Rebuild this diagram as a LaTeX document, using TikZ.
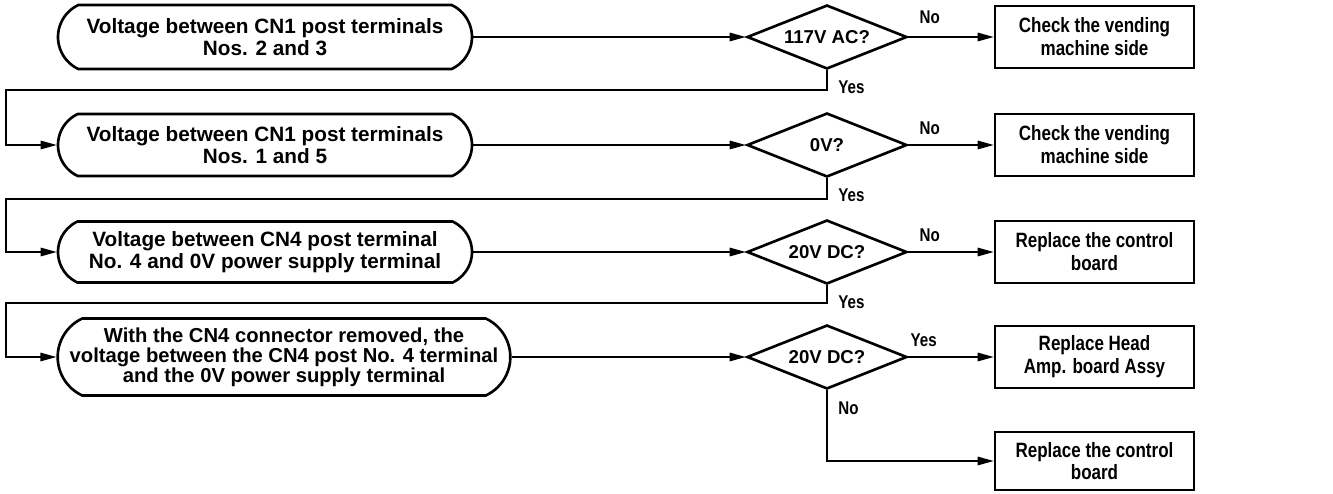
\documentclass[tikz,border=0pt]{standalone}
\usepackage{fontspec}
\setmainfont{Liberation Sans}
\newfontfamily\narrowfont[FakeStretch=0.82]{Liberation Sans}
\usetikzlibrary{arrows.meta,shapes.geometric,shapes.misc,positioning,calc}

\begin{document}
\begin{tikzpicture}[
    check/.style={draw, line width=1.5pt, rounded rectangle, rounded rectangle arc length=130, minimum width=8.28cm, minimum height=1.28cm, align=center, inner sep=0pt, font=\bfseries\fontsize{11.8}{12.8}\selectfont},
    query/.style={draw, line width=1.5pt, diamond, aspect=2.5, minimum width=3.2cm, minimum height=1.28cm, inner sep=0pt, font=\bfseries\fontsize{10.6}{12}\selectfont},
    action/.style={draw, line width=1.5pt, minimum width=3.98cm, minimum height=1.24cm, align=center, inner sep=0pt, font=\narrowfont\bfseries\fontsize{11.8}{13}\selectfont},
    arr/.style={-{Triangle[length=0.32cm,width=0.17cm]}, line width=0.8pt},
    lbl/.style={inner sep=0pt, font=\narrowfont\bfseries\fontsize{10.5}{11}\selectfont}
]
\useasboundingbox (0,0) rectangle (26.66,-9.86);

% voltage checks
\node[check] (v1) at (5.3,-0.74) {Voltage between CN1 post terminals\\Nos. 2 and 3};
\node[check, minimum height=1.24cm] (v2) at (5.3,-2.9) {Voltage between CN1 post terminals\\Nos. 1 and 5};
\node[check, minimum height=1.22cm] (v3) at (5.3,-5.04) {Voltage between CN4 post terminal\\No. 4 and 0V power supply terminal};
\node[check, minimum width=9.04cm, minimum height=1.54cm, font=\bfseries\fontsize{11.5}{11.5}\selectfont] (v4) at (5.68,-7.14) {With the CN4 connector removed, the\\voltage between the CN4 post No. 4 terminal\\and the 0V power supply terminal};

% questions
\node[query] (q1) at (16.54,-0.74) {117V AC?};
\node[query] (q2) at (16.54,-2.9) {0V?};
\node[query] (q3) at (16.54,-5.04) {20V DC?};
\node[query] (q4) at (16.54,-7.14) {20V DC?};

% actions
\node[action] (a1) at (21.89,-0.74) {Check the vending\\machine side};
\node[action] (a2) at (21.89,-2.9) {Check the vending\\machine side};
\node[action] (a3) at (21.89,-5.04) {Replace the control\\board};
\node[action] (a4) at (21.89,-7.14) {Replace Head\\Amp. board Assy};
\node[action, minimum height=1.16cm] (a5) at (21.89,-9.22) {Replace the control\\board};

% loop corners
\coordinate (k1) at (0.12,-1.8);
\coordinate (k2) at (0.12,-3.98);
\coordinate (k3) at (0.12,-6.06);

\draw[arr] (v1.east) -- (q1.west);
\draw[arr] (v2.east) -- (q2.west);
\draw[arr] (v3.east) -- (q3.west);
\draw[arr] (v4.east) -- (q4.west);

\draw[arr] (q1.east) -- (a1.west);
\draw[arr] (q2.east) -- (a2.west);
\draw[arr] (q3.east) -- (a3.west);
\draw[arr] (q4.east) -- (a4.west);
\draw[arr] (q4.south) |- (a5.west);

\draw[arr] (q1.south) |- (k1) |- (v2.west);
\draw[arr] (q2.south) |- (k2) |- (v3.west);
\draw[arr] (q3.south) |- (k3) |- (v4.west);

% answers
\node[lbl, anchor=south west] (n1) at ($(q1.east)+(0.22,0.26)$) {No};
\node[lbl, anchor=south west] (n2) at ($(q2.east)+(0.22,0.2)$) {No};
\node[lbl, anchor=south west] (n3) at ($(q3.east)+(0.22,0.2)$) {No};
\node[lbl, anchor=north west] (y1) at ($(q1.south)+(0.22,-0.2)$) {Yes};
\node[lbl, anchor=north west] (y2) at ($(q2.south)+(0.22,-0.2)$) {Yes};
\node[lbl, anchor=north west] (y3) at ($(q3.south)+(0.22,-0.2)$) {Yes};
\node[lbl, anchor=south west] (y4) at ($(q4.east)+(0.04,0.2)$) {Yes};
\node[lbl, anchor=north west] (n4) at ($(q4.south)+(0.22,-0.22)$) {No};
\end{tikzpicture}
\end{document}
